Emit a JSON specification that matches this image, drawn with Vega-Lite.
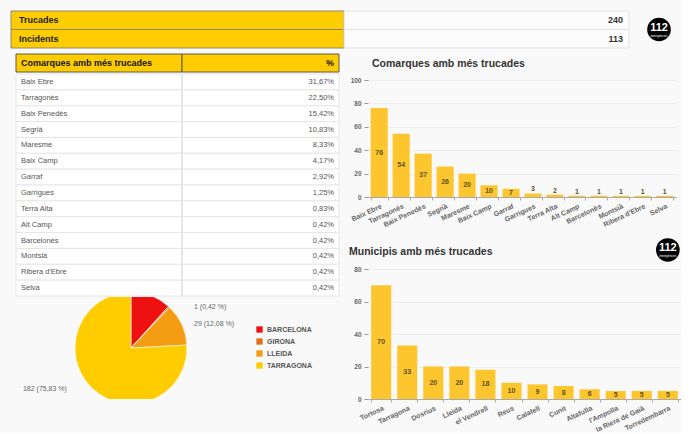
{
  "$schema": "https://vega.github.io/schema/vega-lite/v6.json",
  "background": "#f9f9f9",
  "padding": {"left": 10, "top": 10, "right": 0, "bottom": 0},
  "config": {
    "view": {"stroke": null},
    "font": "Liberation Sans",
    "axis": {"labelFont": "Liberation Sans", "titleFont": "Liberation Sans"},
    "title": {"font": "Liberation Sans"},
    "legend": {"labelFont": "Liberation Sans"}
  },
  "datasets": {
    "kpi": [{"label": "Trucades", "value": 240}, {"label": "Incidents", "value": 113}],
    "logo": [{"t": "112", "s": "emergències"}],
    "cap": [{"name": "Comarques amb més trucades", "pct": "%"}],
    "comarques": [
      {"name": "Baix Ebre", "n": 76, "pct": "31,67%"},
      {"name": "Tarragonès", "n": 54, "pct": "22,50%"},
      {"name": "Baix Penedès", "n": 37, "pct": "15,42%"},
      {"name": "Segrià", "n": 26, "pct": "10,83%"},
      {"name": "Maresme", "n": 20, "pct": "8,33%"},
      {"name": "Baix Camp", "n": 10, "pct": "4,17%"},
      {"name": "Garraf", "n": 7, "pct": "2,92%"},
      {"name": "Garrigues", "n": 3, "pct": "1,25%"},
      {"name": "Terra Alta", "n": 2, "pct": "0,83%"},
      {"name": "Alt Camp", "n": 1, "pct": "0,42%"},
      {"name": "Barcelonès", "n": 1, "pct": "0,42%"},
      {"name": "Montsià", "n": 1, "pct": "0,42%"},
      {"name": "Ribera d'Ebre", "n": 1, "pct": "0,42%"},
      {"name": "Selva", "n": 1, "pct": "0,42%"}
    ],
    "prov": [
      {"prov": "BARCELONA", "n": 28, "label": "28 (11,67 %)"},
      {"prov": "GIRONA", "n": 1, "label": "1 (0,42 %)"},
      {"prov": "LLEIDA", "n": 29, "label": "29 (12,08 %)"},
      {"prov": "TARRAGONA", "n": 182, "label": "182 (75,83 %)"}
    ],
    "municipis": [
      {"name": "Tortosa", "n": 70},
      {"name": "Tarragona", "n": 33},
      {"name": "Dosrius", "n": 20},
      {"name": "Lleida", "n": 20},
      {"name": "el Vendrell", "n": 18},
      {"name": "Reus", "n": 10},
      {"name": "Calafell", "n": 9},
      {"name": "Cunit", "n": 8},
      {"name": "Altafulla", "n": 6},
      {"name": "l'Ampolla", "n": 5},
      {"name": "la Riera de Gaià", "n": 5},
      {"name": "Torredembarra", "n": 5}
    ]
  },
  "spacing": 4,
  "vconcat": [
    {
      "spacing": 14,
      "hconcat": [
        {
          "width": 618, "height": 37,
          "data": {"name": "kpi"},
          "layer": [
            {"mark": {"type": "rect", "fill": "#ffcc00", "stroke": "#8d8a6a", "strokeWidth": 1},
             "encoding": {
               "y": {"field": "label", "type": "nominal", "sort": null, "axis": null, "scale": {"paddingInner": 0, "paddingOuter": 0}},
               "x": {"datum": 0, "type": "quantitative", "scale": {"domain": [0, 1], "nice": false}, "axis": null},
               "x2": {"datum": 0.539}}},
            {"mark": {"type": "rect", "fill": "#fcfcfc", "stroke": "#e3e3e3", "strokeWidth": 1},
             "encoding": {
               "y": {"field": "label", "type": "nominal", "sort": null},
               "x": {"datum": 0.539, "type": "quantitative"},
               "x2": {"datum": 1}}},
            {"mark": {"type": "text", "align": "left", "dx": 8, "fontSize": 9, "fontWeight": "bold", "color": "#222"},
             "encoding": {
               "y": {"field": "label", "type": "nominal", "sort": null},
               "x": {"datum": 0, "type": "quantitative"},
               "text": {"field": "label"}}},
            {"mark": {"type": "text", "align": "right", "dx": -6, "fontSize": 9, "fontWeight": "bold", "color": "#333"},
             "encoding": {
               "y": {"field": "label", "type": "nominal", "sort": null},
               "x": {"datum": 1, "type": "quantitative"},
               "text": {"field": "value"}}}
          ]
        },
        {
          "width": 30, "height": 37,
          "data": {"name": "logo"},
          "layer": [
            {"mark": {"type": "point", "filled": true, "color": "#000000", "size": 560, "opacity": 1}, "encoding": {}},
            {"mark": {"type": "text", "color": "#ffffff", "fontSize": 11, "fontWeight": "bold", "dy": -2}, "encoding": {"text": {"field": "t"}}},
            {"mark": {"type": "text", "color": "#ffffff", "fontSize": 3, "dy": 6}, "encoding": {"text": {"field": "s"}}}
          ]
        }
      ]
    },
    {
      "spacing": 9,
      "hconcat": [
        {
          "spacing": 0,
          "vconcat": [
            {
              "width": 328, "height": 18,
              "data": {"name": "cap"},
              "layer": [
                {"mark": {"type": "rect", "fill": "#ffcc00", "stroke": "#5a5a4a", "strokeWidth": 1},
                 "encoding": {
                   "x": {"datum": 0, "type": "quantitative", "scale": {"domain": [0, 1], "range": [5, 328], "nice": false}, "axis": null},
                   "x2": {"datum": 0.514}}},
                {"mark": {"type": "rect", "fill": "#ffcc00", "stroke": "#5a5a4a", "strokeWidth": 1},
                 "encoding": {"x": {"datum": 0.514, "type": "quantitative"}, "x2": {"datum": 1}}},
                {"mark": {"type": "text", "align": "left", "dx": 5, "fontSize": 9, "fontWeight": "bold", "color": "#111111"},
                 "encoding": {"x": {"datum": 0, "type": "quantitative"}, "text": {"field": "name"}}},
                {"mark": {"type": "text", "align": "right", "dx": -5, "fontSize": 9, "fontWeight": "bold", "color": "#111111"},
                 "encoding": {"x": {"datum": 1, "type": "quantitative"}, "text": {"field": "pct"}}}
              ]
            },
            {
              "width": 328, "height": 222,
              "data": {"name": "comarques"},
              "layer": [
                {"mark": {"type": "rect", "fill": "#ffffff", "stroke": "#e6e6e6", "strokeWidth": 1},
                 "encoding": {
                   "y": {"field": "name", "type": "nominal", "sort": null, "axis": null, "scale": {"paddingInner": 0, "paddingOuter": 0}},
                   "x": {"datum": 0, "type": "quantitative", "scale": {"domain": [0, 1], "range": [5, 328], "nice": false}, "axis": null},
                   "x2": {"datum": 1}}},
                {"mark": {"type": "rule", "color": "#e6e6e6"},
                 "encoding": {"x": {"datum": 0.514, "type": "quantitative"}}},
                {"mark": {"type": "text", "align": "left", "dx": 5, "fontSize": 7.5, "color": "#555555"},
                 "encoding": {
                   "y": {"field": "name", "type": "nominal", "sort": null},
                   "x": {"datum": 0, "type": "quantitative"},
                   "text": {"field": "name"}}},
                {"mark": {"type": "text", "align": "right", "dx": -5, "fontSize": 7.5, "color": "#555555"},
                 "encoding": {
                   "y": {"field": "name", "type": "nominal", "sort": null},
                   "x": {"datum": 1, "type": "quantitative"},
                   "text": {"field": "pct"}}}
              ]
            },
            {
              "width": 240, "height": 102,
              "data": {"name": "prov"},
              "transform": [{"stack": "n", "groupby": [], "sort": [{"field": "prov", "order": "ascending"}], "as": ["a0", "a1"]}],
              "layer": [
                {"mark": {"type": "arc", "outerRadius": 56, "stroke": "#ffffff", "strokeWidth": 0.6, "clip": true},
                 "encoding": {
                   "theta": {"field": "a0", "type": "quantitative", "stack": null, "scale": {"domain": [0, 240]}},
                   "theta2": {"field": "a1"},
                   "color": {"field": "prov", "type": "nominal",
                     "scale": {"domain": ["BARCELONA", "GIRONA", "LLEIDA", "TARRAGONA"], "range": ["#ee1111", "#e36f1e", "#f59d12", "#ffcc00"]},
                     "legend": {"title": null, "orient": "none", "legendX": 245, "legendY": 315, "symbolType": "square", "symbolSize": 40, "symbolStrokeWidth": 0, "labelFontSize": 7, "labelFontWeight": "bold", "labelColor": "#555555", "rowPadding": 4, "labelOffset": 4}}}},
                {"transform": [{"filter": "datum.prov == 'BARCELONA'"}],
                 "mark": {"type": "text", "radius": 56, "align": "left", "dx": 63, "dy": 1, "fontSize": 7, "color": "#666666", "clip": true},
                 "encoding": {"theta": {"field": "a0", "type": "quantitative", "stack": null}, "text": {"field": "label"}}},
                {"transform": [{"filter": "datum.prov == 'GIRONA'"}],
                 "mark": {"type": "text", "radius": 56, "align": "left", "dx": 25.5, "dy": 0.5, "fontSize": 7, "color": "#666666", "clip": true},
                 "encoding": {"theta": {"field": "a0", "type": "quantitative", "stack": null}, "text": {"field": "label"}}},
                {"transform": [{"filter": "datum.prov == 'LLEIDA'"}],
                 "mark": {"type": "text", "radius": 56, "align": "left", "dx": 24.5, "dy": 16.6, "fontSize": 7, "color": "#666666", "clip": true},
                 "encoding": {"theta": {"field": "a0", "type": "quantitative", "stack": null}, "text": {"field": "label"}}},
                {"transform": [{"filter": "datum.prov == 'TARRAGONA'"}],
                 "mark": {"type": "text", "radius": 56, "align": "right", "dx": -120, "dy": 44, "fontSize": 7, "color": "#666666", "clip": true},
                 "encoding": {"theta": {"field": "a0", "type": "quantitative", "stack": null}, "text": {"field": "label"}}}
              ]
            }
          ]
        },
        {
          "spacing": 2,
          "vconcat": [
            {"width": 10, "height": 2, "data": {"values": []}, "mark": "text", "encoding": {}},
            {
              "width": 308, "height": 117,
              "data": {"name": "comarques"},
              "title": {"text": "Comarques amb més trucades", "anchor": "start", "frame": "group", "fontSize": 10.5, "fontWeight": "bold", "color": "#333333", "offset": 8, "dx": 4},
              "encoding": {
                "x": {"field": "name", "type": "nominal", "sort": null, "title": null,
                  "scale": {"paddingInner": 0.22, "paddingOuter": 0.12},
                  "axis": {"labelAngle": -25, "labelFontSize": 7, "labelFontWeight": "bold", "labelColor": "#666666", "domainColor": "#aaaaaa", "tickBand": "extent", "tickSize": 3, "tickColor": "#aaaaaa", "labelPadding": 2}}
              },
              "layer": [
                {"mark": {"type": "bar", "color": "#fdc62f"},
                 "encoding": {"y": {"field": "n", "type": "quantitative", "title": null, "scale": {"domain": [0, 100], "nice": false},
                   "axis": {"values": [0, 20, 40, 60, 80, 100], "domain": false, "gridColor": "#eeeeee", "tickColor": "#999999", "tickSize": 4, "labelFontSize": 6.5, "labelFontWeight": "bold", "labelColor": "#666666", "labelPadding": 3}}}},
                {"transform": [{"filter": "datum.n >= 5"}],
                 "mark": {"type": "text", "fontSize": 7, "fontWeight": "bold", "color": "#5c5226"},
                 "encoding": {"y": {"field": "n", "type": "quantitative", "scale": {"domain": [0, 200], "nice": false}, "axis": null}, "text": {"field": "n"}}},
                {"transform": [{"filter": "datum.n < 5"}],
                 "mark": {"type": "text", "fontSize": 7, "fontWeight": "bold", "color": "#5c5226", "baseline": "bottom", "dy": -1},
                 "encoding": {"y": {"field": "n", "type": "quantitative", "scale": {"domain": [0, 100], "nice": false}, "axis": null}, "text": {"field": "n"}}}
              ],
              "resolve": {"scale": {"y": "independent"}}
            },
            {"width": 10, "height": 6, "data": {"values": []}, "mark": "text", "encoding": {}},
            {
              "width": 313, "height": 130,
              "data": {"name": "municipis"},
              "title": {"text": "Municipis amb més trucades", "anchor": "start", "frame": "group", "fontSize": 10.5, "fontWeight": "bold", "color": "#333333", "offset": -19.5, "dx": -19},
              "encoding": {
                "x": {"field": "name", "type": "nominal", "sort": null, "title": null,
                  "scale": {"paddingInner": 0.23, "paddingOuter": 0.12},
                  "axis": {"labelAngle": -25, "labelFontSize": 7, "labelFontWeight": "bold", "labelColor": "#666666", "domainColor": "#aaaaaa", "tickBand": "extent", "tickSize": 3, "tickColor": "#aaaaaa", "labelPadding": 2}}
              },
              "layer": [
                {"mark": {"type": "bar", "color": "#fdc62f"},
                 "encoding": {"y": {"field": "n", "type": "quantitative", "title": null, "scale": {"domain": [0, 80], "nice": false},
                   "axis": {"values": [0, 20, 40, 60, 80], "domain": false, "gridColor": "#eeeeee", "tickColor": "#999999", "tickSize": 4, "labelFontSize": 6.5, "labelFontWeight": "bold", "labelColor": "#666666", "labelPadding": 3}}}},
                {"mark": {"type": "text", "fontSize": 7, "fontWeight": "bold", "color": "#5c5226"},
                 "encoding": {"y": {"field": "n", "type": "quantitative", "scale": {"domain": [0, 160], "nice": false}, "axis": null}, "text": {"field": "n"}}},
                {"data": {"name": "logo"},
                 "mark": {"type": "point", "filled": true, "color": "#000000", "size": 560, "opacity": 1, "clip": false},
                 "encoding": {"x": {"datum": "Torredembarra", "type": "nominal"}, "y": {"datum": 91.7, "type": "quantitative", "scale": {"domain": [0, 80], "nice": false}, "axis": null}}},
                {"data": {"name": "logo"},
                 "mark": {"type": "text", "color": "#ffffff", "fontSize": 11, "fontWeight": "bold", "dy": -2, "clip": false},
                 "encoding": {"x": {"datum": "Torredembarra", "type": "nominal"}, "y": {"datum": 91.7, "type": "quantitative", "scale": {"domain": [0, 80], "nice": false}, "axis": null}, "text": {"field": "t"}}},
                {"data": {"name": "logo"},
                 "mark": {"type": "text", "color": "#ffffff", "fontSize": 3, "dy": 6, "clip": false},
                 "encoding": {"x": {"datum": "Torredembarra", "type": "nominal"}, "y": {"datum": 91.7, "type": "quantitative", "scale": {"domain": [0, 80], "nice": false}, "axis": null}, "text": {"field": "s"}}}
              ],
              "resolve": {"scale": {"y": "independent"}}
            }
          ]
        }
      ]
    }
  ]
}
